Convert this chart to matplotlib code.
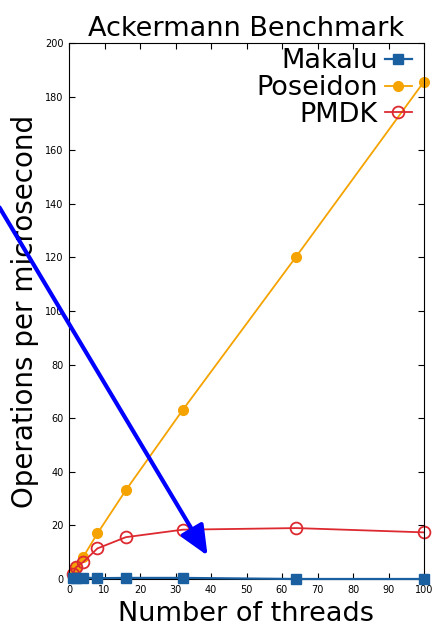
import matplotlib
matplotlib.use("Agg")
import matplotlib.pyplot as plt
from matplotlib.patches import FancyArrowPatch

# DATA
threads = [1, 2, 4, 8, 16, 32, 64, 100]
makalu = [0.5, 0.5, 0.5, 0.3, 0.4, 0.4, 0.0, 0.0]
poseidon = [2.3, 4.5, 8.2, 17.0, 33.1, 63.0, 120.3, 185.6]
pmdk = [1.9, 4.4, 6.3, 11.4, 15.6, 18.4, 19.0, 17.4]

plt.rcParams['font.family'] = ['DejaVu Sans']

fig = plt.figure(figsize=(4.43, 6.28), dpi=100)
ax = fig.add_axes([69/443, 1-579/628, (424-69)/443, (579-43)/628])

ax.plot(threads, makalu, color='#1a5fa0', marker='s', markersize=7, lw=1.6,
        label='Makalu', clip_on=False, zorder=4)
ax.plot(threads, poseidon, color='#f5a300', marker='o', markersize=7, lw=1.3,
        label='Poseidon', clip_on=False)
ax.plot(threads, pmdk, color='#dd2a30', marker='o', markersize=8.5, mfc='none', mew=1.3,
        lw=1.3, label='PMDK', clip_on=False)

ax.set_xlim(0, 100)
ax.set_ylim(0, 200)
ax.set_xticks(range(0, 101, 10))
ax.set_yticks(range(0, 201, 20))
ax.tick_params(direction='in', top=True, right=True, length=4, labelsize=7, pad=4)

ax.set_title('Ackermann Benchmark', fontsize=19.5, pad=5)
ax.set_xlabel('Number of threads', fontsize=19.5, labelpad=4.5)
ax.set_ylabel('Operations per microsecond', fontsize=20, labelpad=4.5)

leg = ax.legend(loc='upper right', bbox_to_anchor=(1 - 9.5/355, 1 - 2.5/536),
                markerfirst=False, frameon=False, fontsize=19.5,
                labelspacing=0.03, handlelength=1.0, handletextpad=0.25,
                borderaxespad=0, borderpad=0.1)
for t in leg.get_texts():
    t.set_ha('right')

# blue arrow overlay
arrow = FancyArrowPatch((-2/443, 1-205/628), (209/443, 1-558/628),
                        transform=fig.transFigure, color='#0000ff', lw=3,
                        arrowstyle='-|>,head_length=0.5,head_width=0.22',
                        mutation_scale=36)
fig.add_artist(arrow)

fig.savefig('out.png', dpi=100)
